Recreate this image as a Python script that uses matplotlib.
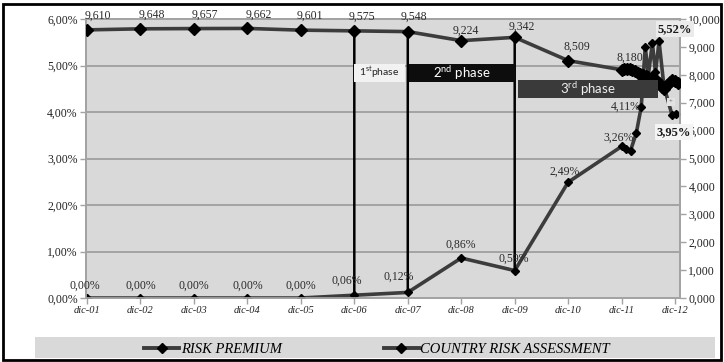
import matplotlib
matplotlib.use("Agg")
import matplotlib.pyplot as plt
from matplotlib.patches import Rectangle, ConnectionPatch
from matplotlib.lines import Line2D
from matplotlib.ticker import FuncFormatter, FixedLocator

# ---------------- data ----------------
tick_months = [0, 12, 24, 36, 48, 60, 72, 84, 96, 108, 120, 132]
tick_labels = ["dic-01", "dic-02", "dic-03", "dic-04", "dic-05", "dic-06",
               "dic-07", "dic-08", "dic-09", "dic-10", "dic-11", "dic-12"]

# RISK PREMIUM (left axis, %)
premium_months = [0, 12, 24, 36, 48, 60, 72, 84, 96, 108, 120, 121, 122, 123.3,
                  124.4, 125.3, 126.0, 126.9, 127.6, 128.4, 129.5, 131.3, 132.2]
premium_values = [0.00, 0.00, 0.00, 0.00, 0.00, 0.06, 0.12, 0.86, 0.59, 2.49, 3.26,
                  3.21, 3.17, 3.55, 4.11, 5.40, 4.80, 5.48, 4.85, 5.52, 4.55, 3.94, 3.95]
premium_labels = {0: "0,00%", 1: "0,00%", 2: "0,00%", 3: "0,00%", 4: "0,00%",
                  5: "0,06%", 6: "0,12%", 7: "0,86%", 8: "0,59%", 9: "2,49%",
                  10: "3,26%", 14: "4,11%"}
premium_bold_labels = {19: "5,52%", 22: "3,95%"}

# COUNTRY RISK ASSESSMENT (right axis)
country_months = [0, 12, 24, 36, 48, 60, 72, 84, 96, 108, 120, 120.6, 121.2, 121.8,
                  122.4, 123.0, 123.6, 124.2, 124.8, 125.4, 126.0, 126.6, 127.2,
                  127.8, 128.4, 129.0, 129.6, 130.2, 130.8, 131.4, 132.0, 132.6]
country_values = [9.610, 9.648, 9.657, 9.662, 9.601, 9.575, 9.548, 9.224, 9.342,
                  8.509, 8.180, 8.20, 8.21, 8.19, 8.16, 8.12, 8.08, 8.04, 7.99,
                  7.94, 7.90, 7.86, 7.83, 7.80, 7.72, 7.55, 7.50, 7.62, 7.74,
                  7.80, 7.76, 7.70]
country_labels = {0: "9,610", 1: "9,648", 2: "9,657", 3: "9,662", 4: "9,601",
                  5: "9,575", 6: "9,548", 7: "9,224", 8: "9,342", 9: "8,509",
                  10: "8,180"}

phase_months = [60, 72, 96]
phase_names = ["1$^{\\mathregular{st}}$phase", "2$^{\\mathregular{nd}}$ phase",
               "3$^{\\mathregular{rd}}$ phase"]

# ---------------- styling ----------------
SERIF = ["Liberation Serif", "DejaVu Serif"]
SANS = ["Lato", "DejaVu Sans"]
LINE_COL = "#3c3c3c"
GRID_COL = "#a3a3a3"
BG = "#d9d9d9"

fig = plt.figure(figsize=(7.24, 3.62), dpi=100)
fig.patch.set_facecolor("white")
ax = fig.add_axes([86 / 724, 1 - 298 / 362, (680 - 86) / 724, (298 - 19) / 362])
ax2 = ax.twinx()

ax.set_facecolor(BG)
ax.set_xlim(-0.22, 133.1)
ax.set_ylim(0, 6)
ax2.set_ylim(0, 10)

# grid
ax.yaxis.set_major_locator(FixedLocator([0, 1, 2, 3, 4, 5, 6]))
ax.grid(axis="y", color=GRID_COL, lw=1.4, zorder=0)
ax.set_axisbelow(True)
ax2.yaxis.set_major_locator(FixedLocator(list(range(0, 11))))

for a in (ax, ax2):
    for s in a.spines.values():
        s.set_color(GRID_COL)
        s.set_linewidth(1.3)

ax.yaxis.set_major_formatter(FuncFormatter(lambda v, p: f"{v:.2f}%".replace(".", ",")))
ax2.yaxis.set_major_formatter(FuncFormatter(lambda v, p: f"{v:.3f}".replace(".", ",")))
ax.set_xticks(tick_months)
ax.set_xticklabels(tick_labels)

ax.tick_params(axis="y", labelsize=8.5, colors=GRID_COL, labelcolor="#222222",
               length=4, width=1, pad=2)
ax2.tick_params(axis="y", labelsize=8.5, colors=GRID_COL, labelcolor="#222222",
                length=4, width=1, pad=2)
ax.tick_params(axis="x", labelsize=7.5, colors=GRID_COL, labelcolor="#222222",
               length=4, width=1, pad=2)
for lab in ax.get_yticklabels() + ax2.get_yticklabels():
    lab.set_family(SERIF)
for lab in ax.get_xticklabels():
    lab.set_family(SERIF)
    lab.set_style("italic")

# series
ax.plot(premium_months, premium_values, color=LINE_COL, lw=2.6, marker="D",
        markersize=4.5, markerfacecolor="black", markeredgecolor="black", zorder=3)
ax2.plot(country_months, country_values, color=LINE_COL, lw=2.6, marker="D",
         markersize=6, markerfacecolor="black", markeredgecolor="black", zorder=3)

# phase separation lines connecting both series
for m in phase_months:
    pv = premium_values[premium_months.index(m)]
    cv = country_values[country_months.index(m)]
    con = ConnectionPatch(xyA=(m, pv), coordsA=ax.transData,
                          xyB=(m, cv), coordsB=ax2.transData,
                          color="black", lw=1.8, zorder=4)
    ax2.add_artist(con)

# phase boxes (drawn above the lines)
box_specs = [
    (phase_months[0], 71.3, 4.65, 5.03, "#f2f2f2", "#222222", 7.5),
    (phase_months[1] + 0.3, phase_months[2], 4.65, 5.03, "#0d0d0d", "white", 9.5),
    (phase_months[2] + 0.8, 128.2, 4.30, 4.69, "#3a3a3a", "#f0f0f0", 9.5),
]
for (x0, x1, y0, y1, fc, tc, fs), name in zip(box_specs, phase_names):
    ax2.add_patch(Rectangle((x0, y0), x1 - x0, y1 - y0, transform=ax.transData,
                            facecolor=fc, edgecolor="none", zorder=5))
    ax2.text((x0 + x1) / 2, (y0 + y1) / 2, name, transform=ax.transData,
             ha="center", va="center", color=tc, fontsize=fs, family=SANS, zorder=6)

# data labels
prem_offsets = {0: (-2, 12), 1: (0, 12), 2: (0, 12), 3: (0, 12), 4: (0, 12),
                5: (-8, 14), 6: (-9, 16), 7: (0, 13), 8: (-1, 12), 9: (-4, 10),
                10: (-3, 9), 14: (-15, 0)}
for i, txt in premium_labels.items():
    ax2.annotate(txt, (premium_months[i], premium_values[i]), xycoords=ax.transData,
                 textcoords="offset pixels", xytext=prem_offsets[i],
                 ha="center", va="center", fontsize=8.5, family=SERIF,
                 color="#2a2a2a", zorder=7)

bold_pos = {19: (675, 29, "#ebebeb"), 22: (674, 132, "#f4f4f4")}
for i, txt in premium_bold_labels.items():
    px, py, bc = bold_pos[i]
    ax2.annotate(txt, (premium_months[i], premium_values[i]), xycoords=ax.transData,
                 textcoords="figure pixels", xytext=(px, 362 - py),
                 ha="center", va="center", fontsize=9, fontweight="bold",
                 family=SERIF, color="#1a1a1a", zorder=8, annotation_clip=False,
                 bbox=dict(boxstyle="square,pad=0.15", fc=bc, ec="none"))

# small hidden label box
ax2.text(671 / 724, 1 - 102 / 362, "+", transform=fig.transFigure, ha="center",
         va="center", fontsize=5, color="#555555", zorder=7,
         bbox=dict(boxstyle="square,pad=0.25", fc="#e3e3e3", ec="none"),
         family=SERIF)

cnt_offsets = {0: (11, 14), 1: (11, 14), 2: (11, 14), 3: (11, 14), 4: (9, 14),
               5: (8, 14), 6: (6, 15), 7: (5, 10), 8: (7, 11), 9: (9, 14),
               10: (8, 12)}
for i, txt in country_labels.items():
    ax2.annotate(txt, (country_months[i], country_values[i]),
                 textcoords="offset pixels", xytext=cnt_offsets[i],
                 ha="center", va="center", fontsize=8.5, family=SERIF,
                 color="#2a2a2a", zorder=7, annotation_clip=False)

# legend band
fig.patches.append(Rectangle((35 / 724, 4 / 362), 680 / 724, 21 / 362,
                             transform=fig.transFigure, facecolor=BG,
                             edgecolor="none", zorder=0))
handles = [Line2D([], [], color=LINE_COL, lw=2.8, marker="D", markersize=5,
                  markerfacecolor="black", markeredgecolor="black"),
           Line2D([], [], color=LINE_COL, lw=2.8, marker="D", markersize=5,
                  markerfacecolor="black", markeredgecolor="black")]
fig.legend(handles, ["RISK PREMIUM", "COUNTRY RISK ASSESSMENT"], ncol=2,
           loc="center", bbox_to_anchor=(377 / 724, 1 - 349 / 362), frameon=False,
           prop=dict(family=SERIF, style="italic", size=10.5),
           handlelength=2.4, handletextpad=0.1, columnspacing=7.0)

# outer frame
fig.patches.append(Rectangle((3 / 724, 2 / 362), 718 / 724, 356 / 362,
                             transform=fig.transFigure, fill=False,
                             edgecolor="black", lw=2, zorder=10))

fig.savefig("out.png", dpi=100)
